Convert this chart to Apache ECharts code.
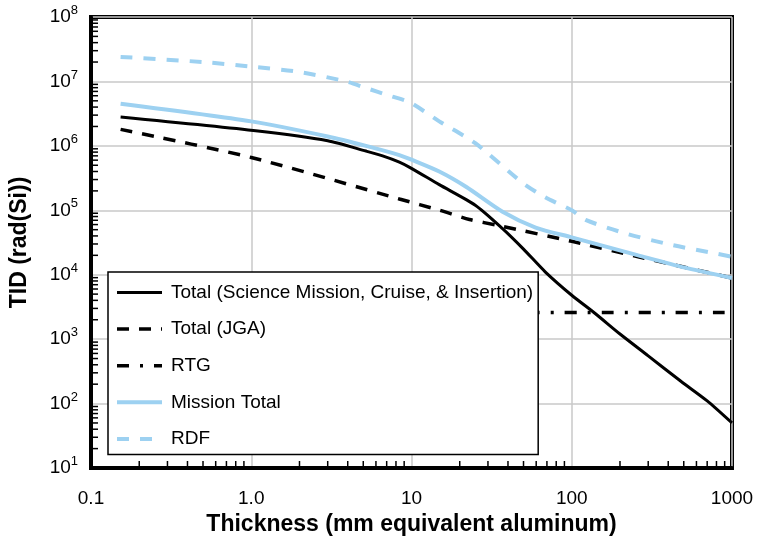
<!DOCTYPE html>
<html>
<head>
<meta charset="utf-8">
<script src="https://cdn.jsdelivr.net/npm/echarts@6/dist/echarts.min.js"></script>
<style>
  html, body { margin: 0; padding: 0; background: #fff; }
  #chart { width: 759px; height: 541px; }
</style>
</head>
<body>
<div id="chart"></div>
<script>
// thickness (mm Al) / dose (rad(Si)) pairs
const totalX = [0.153, 1.1, 3, 5.2, 6.6, 8.4, 9.8, 14.9, 25, 37, 50, 68.5, 100, 140, 200, 300, 482, 700, 1000];
const totalY = [2.8e6, 1.7e6, 1.2e6, 8.3e5, 7.0e5, 5.6e5, 4.6e5, 2.5e5, 1.2e5, 5.2e4, 2.5e4, 1.1e4, 4.8e3, 2.5e3, 1.2e3, 5.5e2, 2.2e2, 1.1e2, 50];

const jgaX = [0.153, 1, 8.4, 15, 23, 35, 100, 260, 1000];
const jgaY = [1.8e6, 6.6e5, 1.5e5, 1.0e5, 7.2e4, 5.8e4, 3.3e4, 1.9e4, 8.9e3];

const rtgX = [0.153, 1000];
const rtgY = [2.6e3, 2.6e3];

const missionX = [0.153, 1, 3, 5.2, 8.4, 10, 14.9, 22, 37, 59.5, 100, 260, 500, 1000];
const missionY = [4.5e6, 2.4e6, 1.4e6, 1.0e6, 7.2e5, 6.1e5, 4.0e5, 2.3e5, 9.5e4, 5.4e4, 3.8e4, 2.0e4, 1.3e4, 8.9e3];

const rdfX = [0.153, 0.5, 1, 2, 3.9, 5.2, 7.3, 9.8, 14.9, 25, 49, 68, 100, 122, 215, 420, 818, 1000];
const rdfY = [2.4e7, 2.0e7, 1.7e7, 1.4e7, 1.0e7, 7.9e6, 6.0e6, 4.7e6, 2.4e6, 1.1e6, 2.7e5, 1.6e5, 1.0e5, 7.1e4, 4.4e4, 2.9e4, 2.1e4, 1.9e4];

const seriesNames = ['Total (Science Mission, Cruise, & Insertion)', 'Total (JGA)', 'RTG', 'Mission Total', 'RDF'];

const xTickLabels = ['0.1', '1.0', '10', '100', '1000'];
const yExponents = ['1', '2', '3', '4', '5', '6', '7', '8'];
const xMinorTicks = [0.2,0.3,0.4,0.5,0.6,0.7,0.8,0.9, 2,3,4,5,6,7,8,9, 20,30,40,50,60,70,80,90, 200,300,400,500,600,700,800,900];
const yMinorTicks = [];
for (let e = 1; e < 8; e++) {
  for (let m = 2; m <= 9; m++) yMinorTicks.push(m * Math.pow(10, e));
}

const xMin = 0.1, xMax = 1000, yMin = 10, yMax = 1e8;
const font = 'Liberation Sans, Arial, Helvetica, sans-serif';
const lightBlue = '#9dd1f1';

function pairs(xs, ys) {
  return xs.map((x, i) => [x, ys[i]]);
}

let chart = echarts.init(document.getElementById('chart'));

function lineSeries(name, xs, ys, color, width, type) {
  return {
    name: name,
    type: 'line',
    data: pairs(xs, ys),
    symbol: 'none',
    smooth: 0.25,
    lineStyle: { color: color, width: width, type: type, cap: 'butt' },
    itemStyle: { color: color },
    z: 3
  };
}

let option = {
  backgroundColor: '#fff',
  animation: false,
  grid: {
    left: 90, right: 27, top: 17, bottom: 70,
    show: true, borderColor: '#000', borderWidth: 4, backgroundColor: 'transparent'
  },
  legend: {
    data: seriesNames,
    orient: 'vertical',
    left: 108, top: 272,
    backgroundColor: '#fff',
    borderColor: '#000',
    borderWidth: 1.5,
    borderRadius: 0,
    padding: [11, 5, 6, 7],
    itemWidth: 45,
    itemHeight: 14,
    itemGap: 17.6,
    itemStyle: { opacity: 0 },
    lineStyle: { width: 'inherit' },
    textStyle: { fontFamily: font, fontSize: 19, color: '#000', padding: [0, 0, 0, 4] },
    z: 10
  },
  xAxis: {
    type: 'log', logBase: 10, min: xMin, max: xMax, splitNumber: 4,
    name: 'Thickness (mm equivalent aluminum)',
    nameLocation: 'middle', nameGap: 45,
    nameTextStyle: { fontFamily: font, fontSize: 23, fontWeight: 'bold', color: '#000' },
    axisLine: { show: true, lineStyle: { color: '#000', width: 4 } },
    axisTick: { show: false },
    splitLine: { show: true, lineStyle: { color: '#c8c8c8', width: 1.5 } },
    axisLabel: {
      fontFamily: font, fontSize: 19, color: '#000', margin: 21,
      formatter: v => xTickLabels[Math.round(Math.log10(v)) + 1]
    }
  },
  yAxis: {
    type: 'log', logBase: 10, min: yMin, max: yMax, splitNumber: 7,
    name: 'TID (rad(Si))',
    nameLocation: 'middle', nameGap: 60,
    nameTextStyle: { fontFamily: font, fontSize: 23, fontWeight: 'bold', color: '#000' },
    axisLine: { show: true, lineStyle: { color: '#000', width: 4 } },
    axisTick: { show: false },
    splitLine: { show: true, lineStyle: { color: '#c8c8c8', width: 1.5 } },
    axisLabel: {
      margin: 13,
      formatter: v => '{b|10}{s|' + yExponents[Math.round(Math.log10(v)) - 1] + '}',
      rich: {
        b: { fontFamily: font, fontSize: 19, color: '#000', lineHeight: 26 },
        s: { fontFamily: font, fontSize: 13, color: '#000', lineHeight: 12, verticalAlign: 'top' }
      }
    }
  },
  series: [
    lineSeries(seriesNames[0], totalX, totalY, '#000', 3, 'solid'),
    lineSeries(seriesNames[1], jgaX, jgaY, '#000', 3.5, [12, 10]),
    lineSeries(seriesNames[2], rtgX, rtgY, '#000', 3.5, [12, 11, 3, 11]),
    lineSeries(seriesNames[3], missionX, missionY, lightBlue, 4, 'solid'),
    lineSeries(seriesNames[4], rdfX, rdfY, lightBlue, 4, [12, 11]),
    {
      // inward minor ticks on the bottom axis
      type: 'custom',
      silent: true,
      data: xMinorTicks.map(v => [v, yMin]),
      renderItem: (params, api) => {
        const p = api.coord([api.value(0), api.value(1)]);
        return { type: 'line', shape: { x1: p[0], y1: p[1], x2: p[0], y2: p[1] - 7 },
                 style: { stroke: '#000', lineWidth: 1.5 } };
      },
      z: 5
    },
    {
      // inward minor ticks on the left axis
      type: 'custom',
      silent: true,
      data: yMinorTicks.map(v => [xMin, v]),
      renderItem: (params, api) => {
        const p = api.coord([api.value(0), api.value(1)]);
        return { type: 'line', shape: { x1: p[0], y1: p[1], x2: p[0] + 7, y2: p[1] },
                 style: { stroke: '#000', lineWidth: 1.5 } };
      },
      z: 5
    }
  ]
};

chart.setOption(option);
</script>
</body>
</html>
